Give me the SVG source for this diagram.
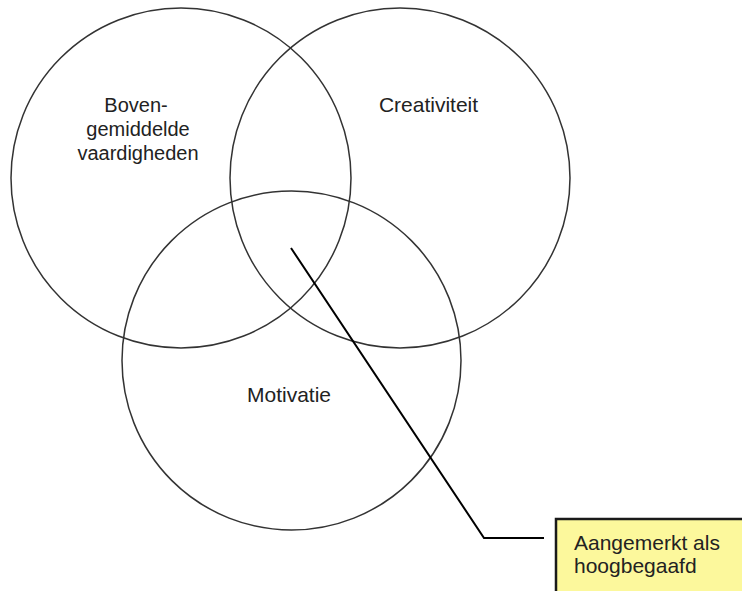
<svg xmlns="http://www.w3.org/2000/svg" width="742" height="591" viewBox="0 0 742 591">
<style>
.c{fill:none;stroke:#333;stroke-width:1.5}
.t{font-family:"Liberation Sans",Arial,sans-serif;font-size:21px;fill:#222;text-anchor:middle}
.s{font-size:20px}
.b{fill:#fcf89c;stroke:#1a1a1a;stroke-width:2.5}
.l{fill:none;stroke:#000;stroke-width:2}
</style>
<rect width="742" height="591" fill="#fff"/>
<g id="vaardigheden">
<circle class="c" cx="181" cy="178" r="170"/>
<text class="t s" x="136" y="112">Boven-</text>
<text class="t s" x="138" y="136">gemiddelde</text>
<text class="t s" x="138" y="160">vaardigheden</text>
</g>
<g id="creativiteit">
<circle class="c" cx="400" cy="178" r="170"/>
<text class="t" x="428.5" y="112">Creativiteit</text>
</g>
<g id="motivatie">
<circle class="c" cx="291.5" cy="360.5" r="169.5"/>
<text class="t" x="289" y="402">Motivatie</text>
</g>
<g id="connectors">
<polyline class="l" points="291,248 484,538 544,538"/>
</g>
<g id="label">
<rect class="b" x="556" y="519" width="200" height="90"/>
<text class="t" x="574" y="550" text-anchor="start" style="text-anchor:start">Aangemerkt als</text>
<text class="t" x="574" y="573" style="text-anchor:start">hoogbegaafd</text>
</g>
</svg>
